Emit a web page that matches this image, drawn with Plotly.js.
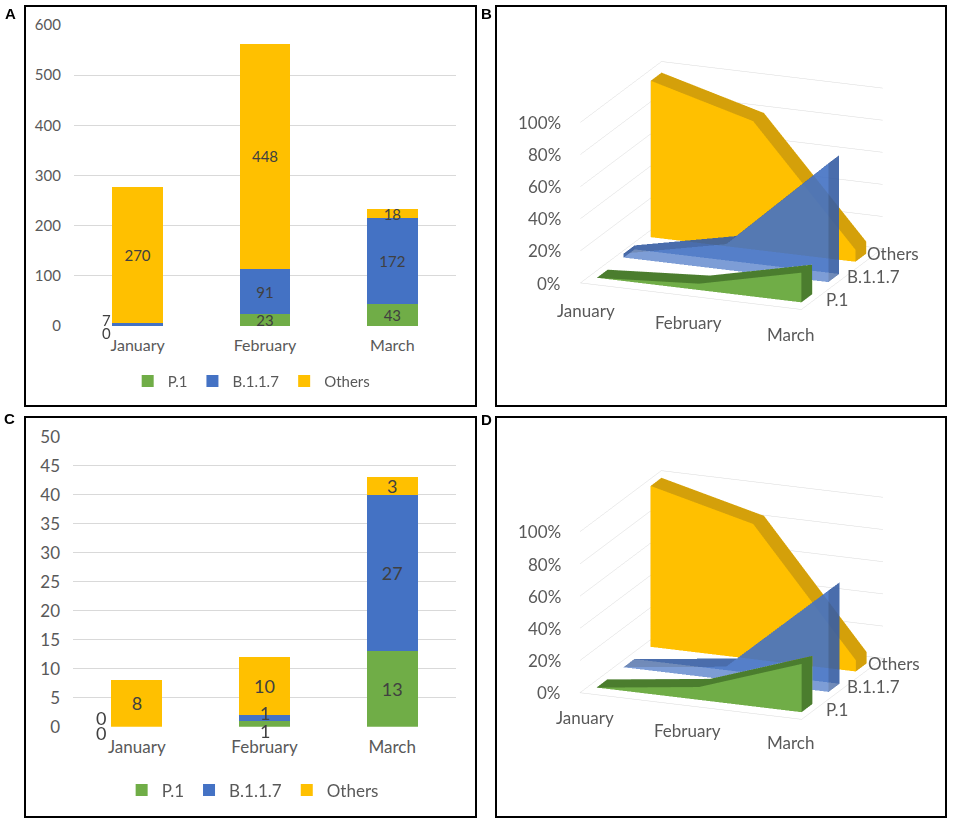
<!DOCTYPE html>
<html>
<head>
<meta charset="utf-8">
<script src="https://cdn.plot.ly/plotly-3.0.1.min.js"></script>
<style>
  html, body { margin: 0; padding: 0; background: #fff; }
  #chart { width: 957px; height: 825px; }
</style>
</head>
<body>
<div id="chart"></div>
<script>
// categories
const months = ["January", "February", "March"];
const variants = ["P.1", "B.1.1.7", "Others"];

// panel A, counts
const aP1 = [0, 23, 43];
const aB117 = [7, 91, 172];
const aOthers = [270, 448, 18];

// panel C, counts
const cP1 = [0, 1, 13];
const cB117 = [0, 1, 27];
const cOthers = [8, 10, 3];

// panel B, share in %
const bP1 = [0, 4, 18.5];
const bB117 = [2.5, 16, 74];
const bOthers = [97.5, 80, 7.5];

// panel D, share in %
const dP1 = [0, 8, 30];
const dB117 = [0, 8, 63];
const dOthers = [100, 84, 7];

// percent ticks of the 3D panels
const pctTicks = [0, 20, 40, 60, 80, 100];

const GREEN = "#70AD47", BLUE = "#4472C4", YELLOW = "#FFC000";
const FONT = "Lato, 'Open Sans', sans-serif";
const GREY = "#595959", LABEL = "#404040";
const X3D = [-0.08, 2.08], Y3D = [-0.5, 2.5];

// bar labels that fit go inside the bar, the tiny ones become annotations
function barText(vals, minVal) {
  return vals.map(v => (v >= minVal ? String(v) : ""));
}

function bars(vals, name, color, xa, ya, leg, minVal, size) {
  return {
    type: "bar",
    x: months,
    y: vals,
    name: name,
    marker: { color: color },
    text: barText(vals, minVal),
    textposition: "inside",
    insidetextanchor: "middle",
    textangle: 0,
    constraintext: "none",
    textfont: { family: FONT, size: size, color: LABEL },
    xaxis: xa,
    yaxis: ya,
    legend: leg,
    hoverinfo: "x+y+name",
  };
}

// one 3D area ribbon: front/back faces, a darker top strip and end caps
function ribbon(vals, depth, color, dark, opacity, scene) {
  const t = 0.2;
  const xs = [], ys = [], zs = [];
  vals.forEach((v, i) => {
    xs.push(i, i, i, i);
    ys.push(depth - t, depth - t, depth + t, depth + t);
    zs.push(v, 0, v, 0);
  });
  const I = [], J = [], K = [], fc = [];
  const tri = (a, b, c, col) => { I.push(a); J.push(b); K.push(c); fc.push(col); };
  for (let n = 0; n < vals.length - 1; n++) {
    const a = 4 * n, b = 4 * (n + 1);
    tri(a, b, b + 1, color); tri(a, b + 1, a + 1, color);             // front
    tri(a + 2, b + 2, b + 3, color); tri(a + 2, b + 3, a + 3, color); // back
    tri(a, b, b + 2, dark); tri(a, b + 2, a + 2, dark);               // top
  }
  const L = 4 * (vals.length - 1);
  tri(0, 1, 3, dark); tri(0, 3, 2, dark);
  tri(L, L + 1, L + 3, dark); tri(L, L + 3, L + 2, dark);
  return {
    type: "mesh3d",
    x: xs, y: ys, z: zs,
    i: I, j: J, k: K,
    facecolor: fc,
    flatshading: true,
    opacity: opacity,
    lighting: { ambient: 1, diffuse: 0, specular: 0, roughness: 1, fresnel: 0 },
    hoverinfo: "skip",
    showscale: false,
    showlegend: false,
    scene: scene,
  };
}

const data = [
  bars(aP1, "P.1", GREEN, "x", "y", "legend", 10, 15),
  bars(aB117, "B.1.1.7", BLUE, "x", "y", "legend", 10, 15),
  bars(aOthers, "Others", YELLOW, "x", "y", "legend", 10, 15),
  bars(cP1, "P.1", GREEN, "x2", "y2", "legend2", 2, 18),
  bars(cB117, "B.1.1.7", BLUE, "x2", "y2", "legend2", 2, 18),
  bars(cOthers, "Others", YELLOW, "x2", "y2", "legend2", 2, 18),
  ribbon(bP1, 0, GREEN, "#4B7D2E", 1, "scene"),
  ribbon(bB117, 1, BLUE, "#34589A", 0.7, "scene"),
  ribbon(bOthers, 2, YELLOW, "#D4A00A", 1, "scene"),
  ribbon(dP1, 0, GREEN, "#4B7D2E", 1, "scene2"),
  ribbon(dB117, 1, BLUE, "#34589A", 0.7, "scene2"),
  ribbon(dOthers, 2, YELLOW, "#D4A00A", 1, "scene2"),
];

function barX(domain, size, anchor) {
  return {
    domain: domain, anchor: anchor,
    showgrid: false, zeroline: false, showline: false, ticks: "",
    ticklabelstandoff: 8,
    tickfont: { family: FONT, size: size, color: GREY },
    fixedrange: true,
  };
}
function barY(domain, range, dtick, size, anchor) {
  return {
    domain: domain, range: range, dtick: dtick,
    anchor: anchor,
    showgrid: true, gridcolor: "#D9D9D9", gridwidth: 1,
    zeroline: false, showline: false, ticks: "",
    ticklabelstandoff: 12,
    tickfont: { family: FONT, size: size, color: GREY },
    fixedrange: true,
  };
}

function axis3d(extra) {
  return Object.assign({
    title: { text: "" },
    showbackground: false,
    showspikes: false,
    zeroline: false,
    ticks: "",
    showticklabels: false,
  }, extra);
}

// tick labels of the 3D panels, placed as scene annotations (Excel keeps them upright)
function sceneLabels(monthShift) {
  const f = { family: FONT, size: 17, color: GREY };
  const out = [];
  months.forEach((m, i) => out.push({
    x: i, y: Y3D[0], z: 0, text: m, xanchor: "center", yanchor: "middle",
    xshift: -3, yshift: monthShift, showarrow: false, font: f,
  }));
  variants.forEach((v, i) => out.push({
    x: X3D[1], y: i, z: 0, text: v, xanchor: "left", yanchor: "middle",
    xshift: 9 - 6.5 * i, yshift: 2.5 * i, showarrow: false, font: f,
  }));
  pctTicks.forEach(p => out.push({
    x: X3D[0], y: Y3D[0], z: p, text: p + "%", xanchor: "right", yanchor: "middle",
    xshift: -17, yshift: 0, showarrow: false, font: f,
  }));
  return out;
}

function scene(domain, k, monthShift) {
  return {
    domain: domain,
    aspectmode: "manual",
    aspectratio: { x: 1.33 * k, y: 1.22 * k, z: 0.94 * k },
    camera: {
      eye: { x: 0.59, y: -1.475, z: 0.5 },
      center: { x: 0, y: 0, z: 0 },
      projection: { type: "orthographic" },
    },
    dragmode: false,
    xaxis: axis3d({
      range: X3D, tickvals: [0, 1, 2],
      showgrid: false, showline: true, linecolor: "#D9D9D9",
    }),
    yaxis: axis3d({
      range: Y3D, tickvals: [0, 1, 2],
      showgrid: false, showline: true, linecolor: "#D9D9D9",
    }),
    zaxis: axis3d({
      range: [0, 100], tickvals: pctTicks,
      showgrid: true, gridcolor: "#D9D9D9", showline: false,
    }),
    annotations: sceneLabels(monthShift),
  };
}

// small labels Excel puts next to the thin/empty segments
const annotations = [
  { xref: "x", yref: "y", x: months[0], y: aP1[0], text: String(aP1[0]), xshift: -31, yshift: -7 },
  { xref: "x", yref: "y", x: months[0], y: aP1[0] + aB117[0], text: String(aB117[0]), xshift: -31, yshift: 3 },
  { xref: "x2", yref: "y2", x: months[0], y: cP1[0], text: String(cP1[0]), xshift: -36, yshift: -6, size: 18 },
  { xref: "x2", yref: "y2", x: months[0], y: cP1[0] + cB117[0], text: String(cB117[0]), xshift: -36, yshift: 9, size: 18 },
  { xref: "x2", yref: "y2", x: months[1], y: 0, text: String(cP1[1]), yshift: -4, size: 18 },
  { xref: "x2", yref: "y2", x: months[1], y: cP1[1] + cB117[1] / 2, text: String(cB117[1]), yshift: 5, size: 18 },
].map(a => ({
  xref: a.xref, yref: a.yref, x: a.x, y: a.y, text: a.text,
  xshift: a.xshift || 0, yshift: a.yshift || 0,
  showarrow: false,
  font: { family: FONT, size: a.size || 15, color: LABEL },
}));

// panel letters
[["A", 10, 14], ["B", 487, 14], ["C", 9, 418], ["D", 487, 419]].forEach(p => {
  annotations.push({
    xref: "paper", yref: "paper", x: p[1] / 957, y: 1 - p[2] / 825,
    xanchor: "center", yanchor: "middle",
    text: "<b>" + p[0] + "</b>", showarrow: false,
    font: { family: "Liberation Sans, Arial, sans-serif", size: 15, color: "#000" },
  });
});

// panel frames
const frames = [[25, 6, 476, 406], [496, 6, 946, 406], [25, 417, 476, 817], [496, 417, 946, 817]];
const shapes = frames.map(f => ({
  type: "rect", xref: "paper", yref: "paper",
  x0: f[0] / 957, x1: f[2] / 957, y0: 1 - f[3] / 825, y1: 1 - f[1] / 825,
  line: { color: "#000", width: 2 }, fillcolor: "rgba(0,0,0,0)",
}));

const layout = {
  width: 957, height: 825,
  margin: { l: 0, r: 0, t: 0, b: 0 },
  paper_bgcolor: "#fff", plot_bgcolor: "#fff",
  barmode: "stack", bargap: 0.6,
  font: { family: FONT, color: GREY },
  showlegend: true,
  xaxis: barX([0.0773, 0.4765], 16, "y"),
  yaxis: barY([0.6048, 0.9697], [0, 600], 100, 15, "x"),
  xaxis2: barX([0.0763, 0.4765], 17, "y2"),
  yaxis2: barY([0.1192, 0.4707], [0, 50], 5, 17, "x2"),
  legend: {
    orientation: "h", x: 0.263, y: 0.538, xanchor: "center", yanchor: "middle",
    font: { family: FONT, size: 15, color: GREY }, traceorder: "normal",
    bgcolor: "rgba(0,0,0,0)",
  },
  legend2: {
    orientation: "h", x: 0.264, y: 0.042, xanchor: "center", yanchor: "middle",
    font: { family: FONT, size: 17, color: GREY }, traceorder: "normal",
    bgcolor: "rgba(0,0,0,0)",
  },
  scene: scene({ x: [0.537, 0.992], y: [0.55, 1.0] }, 0.965, -26),
  scene2: scene({ x: [0.537, 0.992], y: [0.047, 0.51] }, 0.94, -24),
  annotations: annotations,
  shapes: shapes,
};

Plotly.newPlot("chart", data, layout, { displayModeBar: false, responsive: false });
</script>
</body>
</html>
